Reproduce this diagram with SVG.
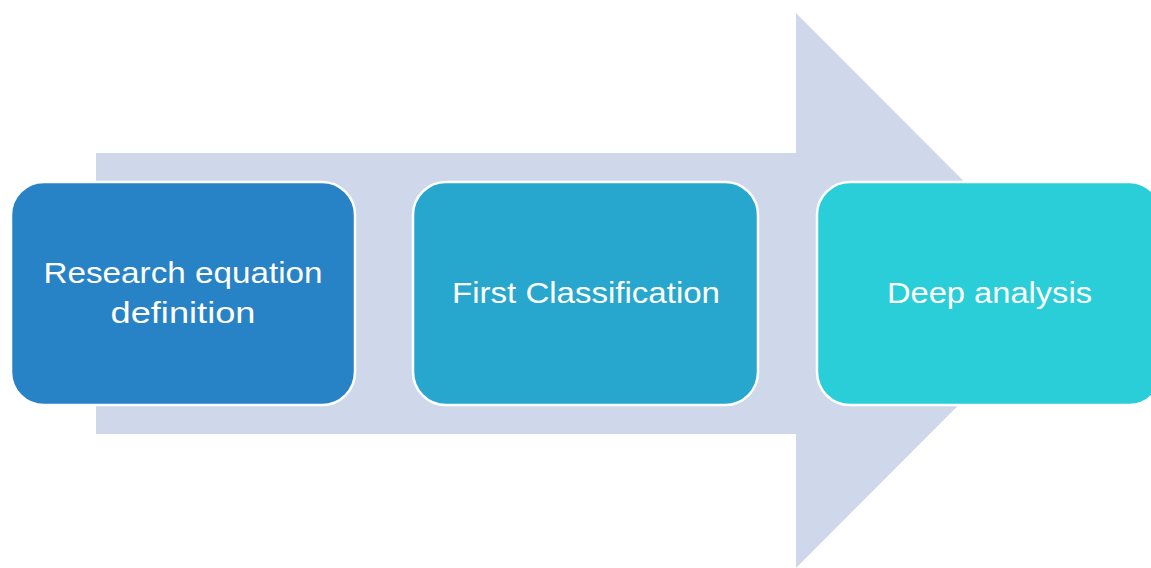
<svg xmlns="http://www.w3.org/2000/svg" width="1151" height="568" viewBox="0 0 1151 568">
<style>
.box{stroke:#ffffff;stroke-width:2.5}
.lbl{font-family:"Liberation Sans",Arial,sans-serif;font-size:30px;fill:#ffffff;text-anchor:middle}
</style>
<rect width="1151" height="568" fill="#ffffff"/>
<g id="connectors">
<polygon id="big-arrow" points="96,153 796,153 796,13 1073,290.5 796,568 796,434 96,434" fill="#CED8EA"/>
</g>
<g id="node1">
<rect class="box" x="11" y="182" width="344" height="223" rx="33" fill="#2882C6"/>
<text class="lbl" x="183" y="283" textLength="279" lengthAdjust="spacingAndGlyphs">Research equation</text>
<text class="lbl" x="183" y="323" textLength="145" lengthAdjust="spacingAndGlyphs">definition</text>
</g>
<g id="node2">
<rect class="box" x="413" y="182" width="345" height="223" rx="33" fill="#28A7CE"/>
<text class="lbl" x="586" y="303" textLength="268" lengthAdjust="spacingAndGlyphs">First Classification</text>
</g>
<g id="node3">
<rect class="box" x="817" y="182" width="345" height="223" rx="33" fill="#2ACED8"/>
<text class="lbl" x="989.5" y="303" textLength="205" lengthAdjust="spacingAndGlyphs">Deep analysis</text>
</g>
</svg>
